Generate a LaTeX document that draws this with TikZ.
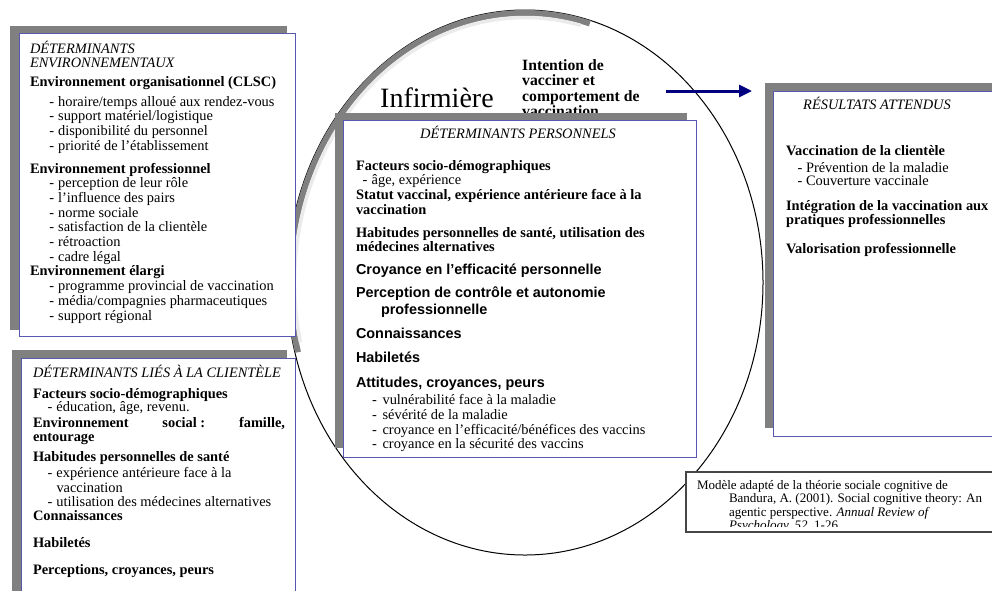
\documentclass[tikz,border=0pt]{standalone}
\usepackage{fontspec}
\setmainfont{Liberation Serif}
\setsansfont{Liberation Sans}
\usetikzlibrary{arrows.meta}
\definecolor{boxblue}{RGB}{88,88,176}
\definecolor{shadowgray}{RGB}{128,128,128}
\definecolor{navyarrow}{RGB}{0,0,128}
\definecolor{citegray}{RGB}{70,70,70}
\newcommand{\dashitem}[3]{\hspace*{#1}-\hspace*{#2}#3}
\newcommand{\bxsetup}{\raggedright\parindent=0pt\lineskiplimit=-100pt\relax}
\tikzset{
  shadowbox/.style={fill=shadowgray, draw=none, inner sep=0pt, outer sep=0pt, anchor=north west},
  mainbox/.style={fill=white, draw=boxblue, line width=1pt, inner sep=0pt, outer sep=0pt, anchor=north west},
  citebox/.style={fill=white, draw=citegray, line width=1.1pt, inner sep=0pt, outer sep=0pt, anchor=north west},
  txt/.style={anchor=base west, inner sep=0pt, outer sep=0pt, font=\fontsize{14.4}{14.7}\selectfont},
  ctxt/.style={anchor=base, inner sep=0pt, outer sep=0pt, font=\fontsize{14.4}{14.7}\selectfont\itshape},
  cittxt/.style={anchor=base west, inner sep=0pt, outer sep=0pt, font=\fontsize{13}{13.5}\selectfont},
  ellipseline/.style={black, line width=1pt},
  bandgray/.style={shadowgray, line width=6pt},
  bandlight/.style={white!92!black, line width=3.5pt},
  arrowstyle/.style={navyarrow, line width=3pt, -{Triangle[length=13pt,width=12pt]}}
}
\begin{document}
\begin{tikzpicture}[x=1pt,y=-1pt]
\clip (0,0) rectangle (992,590);
\fill[white] (0,0) rectangle (992,590);

% ---- the nurse ellipse ----
\coordinate (c) at (525,282.5);
\draw[ellipseline] (c) ellipse [x radius=238, y radius=272.5];
\draw[bandgray] (c) ++(165:235 and 269.5) arc[start angle=165, end angle=286, x radius=235, y radius=269.5];
\draw[bandlight] (c) ++(167:230.5 and 265) arc[start angle=167, end angle=284, x radius=230.5, y radius=265];

\node[anchor=base west, inner sep=0pt, font=\fontsize{28}{30}\selectfont] (infirmiere) at (380,107) {Infirmière};
\node[anchor=base west, inner sep=0pt, font=\fontsize{15.7}{15.5}\selectfont\bfseries] (intention) at (522,70)
  {\parbox[t]{140pt}{\bxsetup Intention de\\vacciner et\\comportement de\\vaccination}};

% ---- arrow ----
\coordinate (arrS) at (666,91);
\coordinate (arrE) at (752,91);
\draw[arrowstyle] (arrS) -- (arrE);

% ---- environment box ----
\node[shadowbox, minimum width=277pt, minimum height=304pt] (envS) at (10,26) {};
\node[mainbox, minimum width=276pt, minimum height=303pt] (env) at (19,33) {};
\node[txt] (envT) at (30,53) {\parbox[t]{262pt}{\bxsetup
\textit{DÉTERMINANTS}\\
\textit{ENVIRONNEMENTAUX}\\[3.6pt]
\textbf{Environnement organisationnel (CLSC)}\\[5.3pt]
\dashitem{19.4pt}{4pt}{horaire/temps alloué aux rendez-vous}\\
\dashitem{19.4pt}{4pt}{support matériel/logistique}\\
\dashitem{19.4pt}{4pt}{disponibilité du personnel}\\
\dashitem{19.4pt}{4pt}{priorité de l’établissement}\\[8.2pt]
\textbf{Environnement professionnel}\\
\dashitem{19.4pt}{4pt}{perception de leur rôle}\\
\dashitem{19.4pt}{4pt}{l’influence des pairs}\\
\dashitem{19.4pt}{4pt}{norme sociale}\\
\dashitem{19.4pt}{4pt}{satisfaction de la clientèle}\\
\dashitem{19.4pt}{4pt}{rétroaction}\\
\dashitem{19.4pt}{4pt}{cadre légal}\\
\textbf{Environnement élargi}\\
\dashitem{19.4pt}{4pt}{programme provincial de vaccination}\\
\dashitem{19.4pt}{4pt}{média/compagnies pharmaceutiques}\\
\dashitem{19.4pt}{4pt}{support régional}}};

% ---- client box ----
\node[shadowbox, minimum width=275pt, minimum height=260pt] (cliS) at (12,350) {};
\node[mainbox, minimum width=274pt, minimum height=260pt] (cli) at (21,358) {};
\node[txt] (cliT) at (33,377) {\parbox[t]{252pt}{\bxsetup
\textit{DÉTERMINANTS LIÉS À LA CLIENTÈLE}\\[6.3pt]
\textbf{Facteurs socio-démographiques}\\[-1pt]
\dashitem{14.7pt}{4pt}{éducation, âge, revenu.}\\[1pt]
\makebox[252pt][l]{\textbf{Environnement\hfill social :\hfill famille,}}\\[-1pt]
\textbf{entourage}\\[5.3pt]
\textbf{Habitudes personnelles de santé}\\[2pt]
\dashitem{14.7pt}{4pt}{expérience antérieure face à la}\\
\hspace*{23.5pt}vaccination\\[-1pt]
\dashitem{14.7pt}{4pt}{utilisation des médecines alternatives}\\
\textbf{Connaissances}\\[12pt]
\textbf{Habiletés}\\[12pt]
\textbf{Perceptions, croyances, peurs}}};

% ---- personal box ----
\node[shadowbox, minimum width=352pt, minimum height=335pt] (perS) at (335,113) {};
\node[mainbox, minimum width=353pt, minimum height=337pt] (per) at (343,120) {};
\node[ctxt] (perH) at (518,138) {DÉTERMINANTS PERSONNELS};
\node[txt] (perT) at (356,170) {\parbox[t]{330pt}{\bxsetup
\textbf{Facteurs socio-démographiques}\\
\dashitem{6.7pt}{4.2pt}{âge, expérience}\\
\textbf{Statut vaccinal, expérience antérieure face à la}\\
\textbf{vaccination}\\[8.3pt]
\textbf{Habitudes personnelles de santé, utilisation des}\\
\textbf{médecines alternatives}\\[8.3pt]
{\sffamily\bfseries Croyance en l’efficacité personnelle}\\[8.3pt]
{\sffamily\bfseries Perception de contrôle et autonomie}\\[2.3pt]
\hspace*{25pt}{\sffamily\bfseries professionnelle}\\[9.3pt]
{\sffamily\bfseries Connaissances}\\[9.3pt]
{\sffamily\bfseries Habiletés}\\[10.3pt]
{\sffamily\bfseries Attitudes, croyances, peurs}\\[2.3pt]
\dashitem{16pt}{5.8pt}{vulnérabilité face à la maladie}\\
\dashitem{16pt}{5.8pt}{sévérité de la maladie}\\
\dashitem{16pt}{5.8pt}{croyance en l’efficacité/bénéfices des vaccins}\\
\dashitem{16pt}{5.8pt}{croyance en la sécurité des vaccins}}};

% ---- results box ----
\node[shadowbox, minimum width=240pt, minimum height=345pt] (resS) at (765,83) {};
\node[mainbox, minimum width=240pt, minimum height=345pt] (res) at (773,91) {};
\node[ctxt] (resH) at (877,109) {RÉSULTATS ATTENDUS};
\node[txt] (resT) at (786,155) {\parbox[t]{215pt}{\bxsetup
\textbf{Vaccination de la clientèle}\\[2.3pt]
\dashitem{11.7pt}{3.5pt}{Prévention de la maladie}\\[-1.7pt]
\dashitem{11.7pt}{3.5pt}{Couverture vaccinale}\\[10.3pt]
\textbf{Intégration de la vaccination aux}\\[-0.7pt]
\textbf{pratiques professionnelles}\\[14.3pt]
\textbf{Valorisation professionnelle}}};

% ---- citation box ----
\node[citebox, minimum width=320pt, minimum height=60pt] (cit) at (686,472) {};
\begin{scope}
\clip (687,473) rectangle (1000,526.5);
\node[cittxt] (citT) at (697,489) {\parbox[t]{300pt}{\bxsetup
Modèle adapté de la théorie sociale cognitive de\\
\hspace*{32pt}Bandura, A. (2001). Social cognitive theory: An\\
\hspace*{32pt}agentic perspective. \textit{Annual Review of}\\
\hspace*{32pt}\textit{Psychology, 52}, 1-26.}};
\end{scope}
\end{tikzpicture}
\end{document}
